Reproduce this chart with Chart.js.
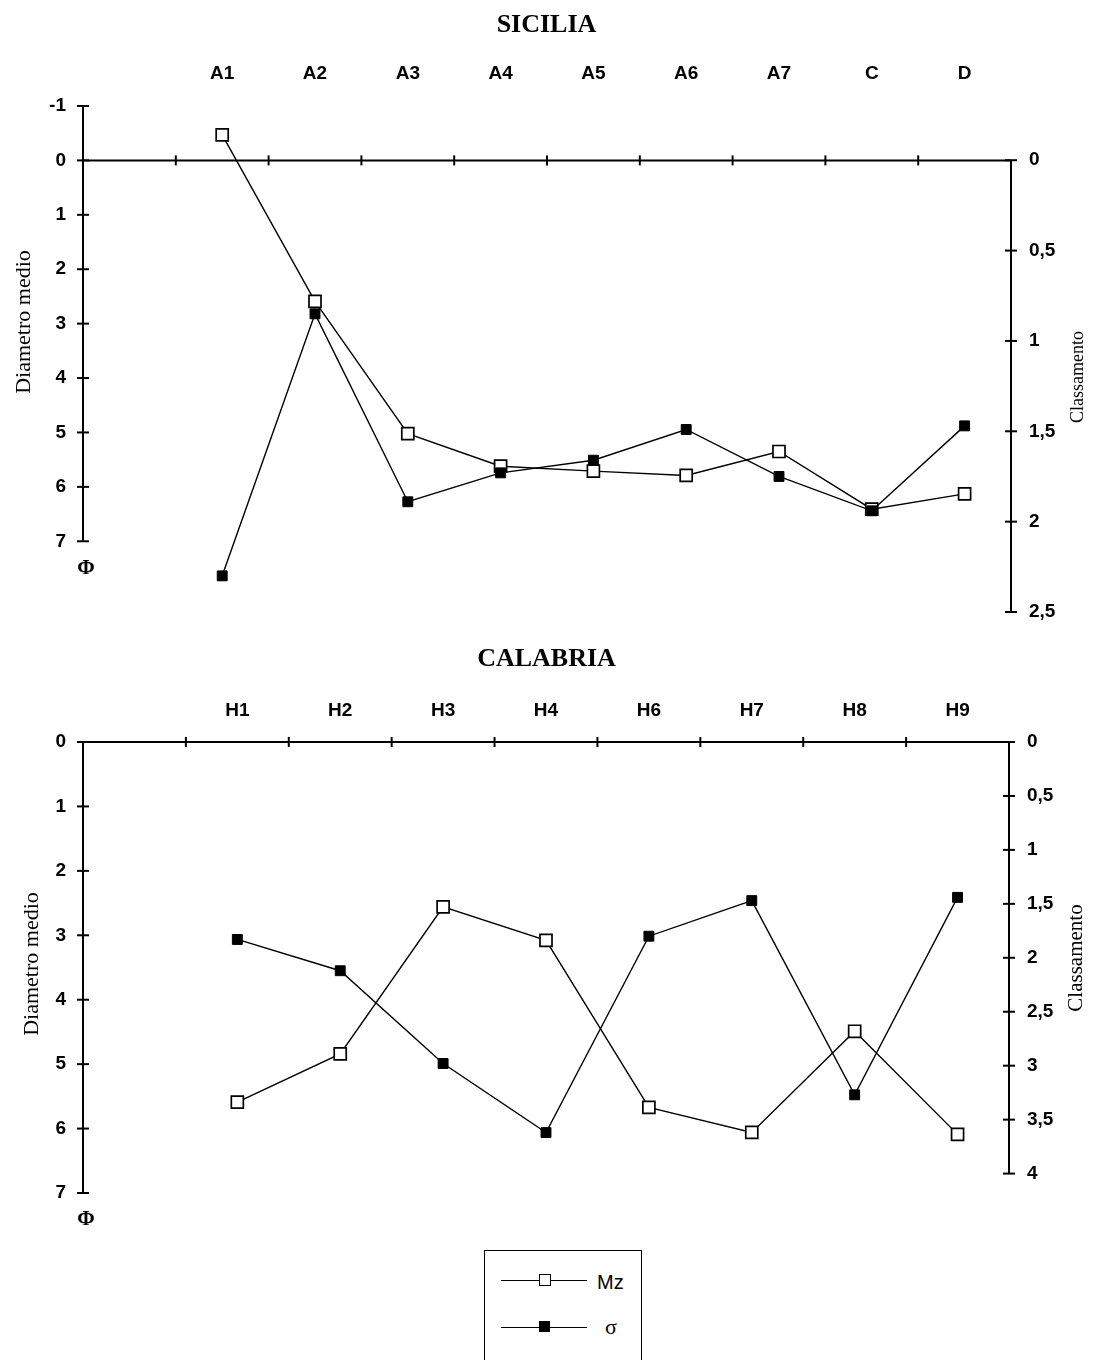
<!DOCTYPE html>
<html>
<head>
<meta charset="utf-8">
<script src="https://cdn.jsdelivr.net/npm/chart.js@4.4.0/dist/chart.umd.min.js"></script>
<style>
  body { margin: 0; background: #fff; }
  #page { position: relative; width: 1093px; height: 1360px; overflow: hidden; background: #fff; }
  #sicilia { position: absolute; left: 0; top: 0; }
  #calabria { position: absolute; left: 0; top: 630px; }
  .legend { position: absolute; left: 484px; top: 1250px; width: 158px; height: 140px;
            border: 1.5px solid #000; box-sizing: border-box; font-family: "Liberation Sans", Arial, sans-serif; }
  .legend .seg { position: absolute; left: 16px; width: 86px; height: 0; border-top: 1.4px solid #000; }
  .legend .mk { position: absolute; box-sizing: border-box; border: 1.5px solid #000; }
  .legend .open { width: 12px; height: 12px; background: #fff; }
  .legend .full { width: 11px; height: 11px; background: #000; }
  .legend .txt { position: absolute; font-size: 20px; line-height: 20px; color: #000; }
</style>
</head>
<body>
<div id="page">
  <canvas id="sicilia" width="1093" height="660"></canvas>
  <canvas id="calabria" width="1093" height="620"></canvas>
  <div class="legend">
    <div class="seg" style="top:29px"></div>
    <div class="mk open" style="left:54px; top:23px"></div>
    <div class="txt" style="left:112px; top:21px">Mz</div>
    <div class="seg" style="top:76px"></div>
    <div class="mk full" style="left:54px; top:70px"></div>
    <div class="txt" style="left:120px; top:66px; font-family:'Liberation Serif', serif; font-size:22px">σ</div>
  </div>
</div>
<script>
// SICILIA
const siciliaLabels = ['', 'A1', 'A2', 'A3', 'A4', 'A5', 'A6', 'A7', 'C', 'D'];
const siciliaMz = [null, -0.47, 2.59, 5.02, 5.62, 5.71, 5.79, 5.35, 6.41, 6.13];
const siciliaSigma = [null, 2.30, 0.85, 1.89, 1.73, 1.66, 1.49, 1.75, 1.94, 1.47];
const siciliaLeftTicks = [-1, 0, 1, 2, 3, 4, 5, 6, 7];
const siciliaRightTicks = [0, 0.5, 1, 1.5, 2, 2.5];

// CALABRIA
const calabriaLabels = ['', 'H1', 'H2', 'H3', 'H4', 'H6', 'H7', 'H8', 'H9'];
const calabriaMz = [null, 5.59, 4.84, 2.56, 3.08, 5.67, 6.06, 4.49, 6.09];
const calabriaSigma = [null, 1.83, 2.12, 2.98, 3.62, 1.80, 1.47, 3.27, 1.44];
const calabriaLeftTicks = [0, 1, 2, 3, 4, 5, 6, 7];
const calabriaRightTicks = [0, 0.5, 1, 1.5, 2, 2.5, 3, 3.5, 4];

const SANS = '"Liberation Sans", Arial, sans-serif';
const SERIF = '"Liberation Serif", "Times New Roman", serif';

function fmt(v) {
    return String(v).replace('.', ',');
}

// axis lines with crossing tick marks, rotated axis titles and the phi mark
function axisFrame(o) {
    return {
        id: 'axisFrame',
        afterDraw(chart) {
            const ctx = chart.ctx;
            const a = chart.chartArea;
            const yl = chart.scales.yL, yr = chart.scales.yR, x = chart.scales.x;
            const line = (x1, y1, x2, y2) => {
                ctx.beginPath(); ctx.moveTo(x1, y1); ctx.lineTo(x2, y2); ctx.stroke();
            };
            ctx.save();
            ctx.strokeStyle = '#000';
            ctx.lineWidth = 2;

            // left axis
            const lt = o.leftTicks;
            line(a.left, yl.getPixelForValue(lt[0]), a.left, yl.getPixelForValue(lt[lt.length - 1]));
            lt.forEach(v => {
                const p = yl.getPixelForValue(v);
                line(a.left - 6, p, a.left + 6, p);
            });

            // right axis
            const rt = o.rightTicks;
            line(a.right, yr.getPixelForValue(rt[0]), a.right, yr.getPixelForValue(rt[rt.length - 1]));
            rt.forEach(v => {
                const p = yr.getPixelForValue(v);
                line(a.right - 6, p, a.right + 6, p);
            });

            // horizontal axis at zero
            const y0 = yl.getPixelForValue(0);
            line(a.left, y0, a.right, y0);
            const step = x.getPixelForValue(1) - x.getPixelForValue(0);
            for (let i = 0; i < o.labels.length - 1; i++) {
                const p = x.getPixelForValue(i) + step / 2;
                line(p, y0 - 5, p, y0 + 5);
            }

            ctx.fillStyle = '#000';
            ctx.textAlign = 'center';
            ctx.textBaseline = 'middle';

            // axis titles, reading bottom to top
            const vtext = (txt, cx, cy, font) => {
                ctx.save();
                ctx.translate(cx, cy);
                ctx.rotate(-Math.PI / 2);
                ctx.font = font;
                ctx.fillText(txt, 0, 0);
                ctx.restore();
            };
            vtext('Diametro medio', o.leftTitle[0], o.leftTitle[1], o.leftTitle[2] + 'px ' + SERIF);
            vtext('Classamento', o.rightTitle[0], o.rightTitle[1], o.rightTitle[2] + 'px ' + SERIF);

            ctx.font = 'bold 21px ' + SERIF;
            ctx.fillText('Φ', a.left + 3, yl.getPixelForValue(lt[lt.length - 1]) + 27);
            ctx.restore();
        }
    };
}

function buildChart(id, o) {
    const titleH = 26 * 1.2;
    return new Chart(document.getElementById(id), {
        type: 'line',
        data: {
            labels: o.labels,
            datasets: [
                {
                    label: 'Mz',
                    data: o.mz,
                    yAxisID: 'yL',
                    order: 1,
                    borderColor: '#000',
                    borderWidth: 1.4,
                    pointStyle: 'rect',
                    pointRadius: 8.5,
                    pointBackgroundColor: '#fff',
                    pointBorderColor: '#000',
                    pointBorderWidth: 1.7,
                    tension: 0
                },
                {
                    label: 'σ',
                    data: o.sigma,
                    yAxisID: 'yR',
                    order: 0,
                    borderColor: '#000',
                    borderWidth: 1.4,
                    pointStyle: 'rect',
                    pointRadius: 7,
                    pointBackgroundColor: '#000',
                    pointBorderColor: '#000',
                    pointBorderWidth: 1,
                    tension: 0
                }
            ]
        },
        options: {
            responsive: false,
            animation: false,
            layout: { padding: { left: 0, right: 0, top: 0, bottom: o.canvasH - o.area.bottom } },
            plugins: {
                legend: { display: false },
                tooltip: { enabled: false },
                title: {
                    display: true,
                    text: o.title,
                    color: '#000',
                    font: { family: SERIF, size: 26, weight: 'bold', lineHeight: 1.2 },
                    padding: { top: o.titleY - titleH / 2, bottom: 0 }
                }
            },
            scales: {
                x: {
                    type: 'category',
                    position: 'top',
                    offset: true,
                    grid: { display: false, drawTicks: false },
                    border: { display: false },
                    ticks: {
                        color: '#000',
                        padding: o.area.top - o.labelY - 11.4,
                        autoSkip: false,
                        maxRotation: 0,
                        font: { family: SANS, size: 19, weight: 'bold', lineHeight: 1.2 }
                    },
                    afterFit(s) { s.height = o.area.top - (o.titleY - titleH / 2) - titleH; }
                },
                yL: {
                    position: 'left',
                    reverse: true,
                    min: o.leftRange[0],
                    max: o.leftRange[1],
                    grid: { display: false, drawTicks: false },
                    border: { display: false },
                    afterBuildTicks(s) { s.ticks = o.leftTicks.map(v => ({ value: v })); },
                    ticks: {
                        color: '#000',
                        padding: 17,
                        callback: v => fmt(v),
                        font: { family: SANS, size: 19, weight: 'bold' }
                    },
                    afterFit(s) { s.width = o.area.left; }
                },
                yR: {
                    position: 'right',
                    reverse: true,
                    min: o.rightRange[0],
                    max: o.rightRange[1],
                    grid: { display: false, drawTicks: false },
                    border: { display: false },
                    afterBuildTicks(s) { s.ticks = o.rightTicks.map(v => ({ value: v })); },
                    ticks: {
                        color: '#000',
                        padding: 18,
                        callback: v => fmt(v),
                        font: { family: SANS, size: 19, weight: 'bold' }
                    },
                    afterFit(s) { s.width = 1093 - o.area.right; }
                }
            }
        },
        plugins: [axisFrame(o)]
    });
}

buildChart('sicilia', {
    title: 'SICILIA',
    labels: siciliaLabels,
    mz: siciliaMz,
    sigma: siciliaSigma,
    leftTicks: siciliaLeftTicks,
    rightTicks: siciliaRightTicks,
    leftRange: [-1, 8.3],
    rightRange: [-0.3, 2.5],
    area: { left: 83, right: 1011, top: 106, bottom: 612 },
    canvasH: 660,
    titleY: 25,
    labelY: 74,
    leftTitle: [24, 322, 22],
    rightTitle: [1078, 377, 18]
});

buildChart('calabria', {
    title: 'CALABRIA',
    labels: calabriaLabels,
    mz: calabriaMz,
    sigma: calabriaSigma,
    leftTicks: calabriaLeftTicks,
    rightTicks: calabriaRightTicks,
    leftRange: [0, 7],
    rightRange: [0, 4.18],
    area: { left: 83, right: 1009, top: 112, bottom: 563 },
    canvasH: 620,
    titleY: 29,
    labelY: 81,
    leftTitle: [32, 334, 22],
    rightTitle: [1076, 328, 21]
});
</script>
</body>
</html>
